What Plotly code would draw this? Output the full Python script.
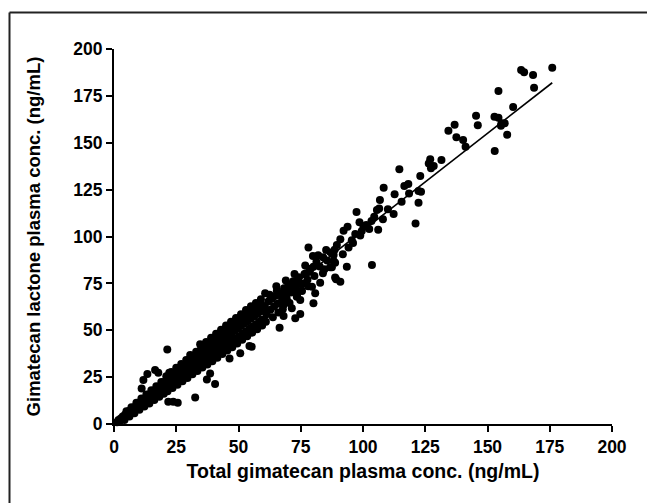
import plotly.graph_objects as go

# ---- data (ng/mL) ----
band_x = [1.2, 1.8, 2.3, 2.7, 3.1, 3.5, 3.9, 4.4, 4.8, 5.2, 5.6, 6.0, 6.4, 6.9, 7.3, 7.7, 8.1, 8.6, 9.0, 9.4,
          9.9, 10.3, 10.8, 11.2, 11.7, 12.1, 12.6, 13.0, 13.5, 14.0, 14.4, 14.9, 15.3, 15.8, 16.2, 16.7, 17.1,
          17.6, 18.0, 18.5, 19.0, 19.4, 19.9,
          20.3, 20.7, 21.1, 21.6, 22.0, 22.4, 22.9, 23.3, 23.7, 24.2, 24.6, 25.0, 25.5, 25.9, 26.3, 26.8, 27.2,
          27.6, 28.1, 28.5, 28.9, 29.4, 29.8, 30.2, 30.7, 31.1, 31.5, 32.0, 32.4, 32.8, 33.3, 33.7, 34.1, 34.6,
          35.0,
          35.4, 35.8, 36.2, 36.7, 37.1, 37.5, 38.0, 38.4, 38.8, 39.3, 39.7, 40.1, 40.6, 41.0, 41.4, 41.9, 42.3,
          42.7, 43.2, 43.6, 44.0, 44.5, 44.9, 45.3, 45.8, 46.2, 46.6, 47.1, 47.5, 47.9, 48.4, 48.8, 49.2, 49.7,
          50.1, 50.5, 51.0, 51.4, 51.8, 52.3, 52.7, 53.1, 53.6, 54.0, 54.4, 54.9, 55.3, 55.7, 56.2, 56.6, 57.0,
          57.5, 57.9, 58.3, 58.8, 59.2, 59.6, 60.0]
band_y = [1.0, 2.1, 1.6, 3.0, 2.4, 4.0, 3.2, 4.9, 3.9, 5.6, 4.8, 6.9, 5.7, 7.4, 6.5, 8.6, 7.2, 9.3, 8.1, 10.4,
          9.0, 11.2, 9.6, 12.3, 10.8, 13.0, 11.4, 14.1, 12.2, 15.2, 13.3, 16.0, 14.1, 17.2, 15.0, 18.1, 15.8,
          19.0, 16.7, 20.1, 17.5, 21.0, 18.6,
          22.5, 19.0, 21.4, 24.0, 20.2, 23.1, 25.3, 21.0, 24.4, 26.6, 22.4, 25.7, 28.0, 23.8, 27.1, 29.4, 25.0,
          28.3, 30.8, 26.2, 29.6, 32.0, 27.5, 31.1, 33.4, 28.7, 32.3, 34.6, 29.9, 33.6, 36.0, 31.2, 35.0, 37.3,
          32.4,
          36.2, 39.5, 33.5, 37.8, 40.9, 34.8, 39.0, 42.3, 36.0, 40.5, 43.6, 37.1, 41.8, 45.0, 38.4, 43.0, 46.4,
          39.6, 44.5, 47.8, 40.9, 45.7, 49.1, 42.0, 47.0, 50.5, 43.3, 48.4, 51.8, 44.5, 49.6, 53.2, 45.8, 50.9,
          54.5, 47.0, 52.3, 55.8, 48.3, 53.6, 57.2, 49.5, 54.8, 58.5, 50.8, 56.1, 59.9, 52.0, 57.5, 61.2, 53.2,
          58.7, 62.6, 54.5, 60.0, 63.8, 55.7, 61.2]

edge_x = [4.2, 6.2, 8.2, 10.2, 12.2, 14.2, 16.2, 18.2, 20.0,
          5.0, 7.0, 9.0, 11.0, 13.0, 15.0, 17.0, 19.0,
          21.5, 23.5, 25.5, 27.5, 29.5, 31.5, 33.5, 35.5,
          21.0, 23.0, 25.0, 27.0, 29.0, 31.0, 33.0, 35.0,
          37.5, 39.5, 41.5, 43.5, 45.5, 47.5, 49.5, 51.5, 53.5, 55.5, 57.5, 59.5,
          37.0, 39.0, 41.0, 43.0, 45.0, 47.0, 49.0, 51.0, 53.0, 55.0, 57.0, 59.0,
          61.0, 62.5, 63.8, 65.2, 66.0, 67.8, 69.0, 70.5, 72.5, 73.5, 75.5, 76.8, 78.0, 80.5, 82.0, 84.5]
edge_y = [2.2, 4.0, 5.8, 7.6, 9.4, 11.0, 12.8, 14.6, 16.2,
          6.8, 9.0, 11.4, 13.6, 15.8, 18.0, 20.2, 22.4,
          17.5, 19.2, 21.0, 22.8, 24.6, 26.5, 28.3, 30.2,
          25.5, 27.8, 30.0, 32.0, 34.2, 36.4, 38.5, 40.6,
          31.8, 33.5, 35.4, 37.4, 39.2, 41.0, 43.0, 45.0, 46.8, 48.7, 50.6, 52.5,
          43.8, 46.0, 48.2, 50.3, 52.5, 54.6, 56.6, 58.6, 60.8, 62.8, 64.6, 66.6,
          54.5, 69.0, 57.0, 73.5, 59.5, 61.2, 76.5, 64.5, 80.0, 68.5, 71.0, 84.5, 73.5, 79.0, 90.0, 82.5]

mid_x = [60.5, 61.3, 62.0, 62.8, 63.5, 64.3, 65.0, 65.8, 66.6, 67.5, 68.3, 69.2, 70.1, 71.0, 72.0, 73.1, 74.2,
         75.3, 76.5, 77.7, 79.0, 81.3, 82.6, 84.0, 85.6, 87.0, 88.6, 95.5, 96.0, 99.5, 102.5, 104.5, 110.0,
         115.5, 118.5]
mid_y = [62.5, 58.6, 65.3, 60.9, 66.8, 62.7, 68.4, 64.2, 69.8, 66.3, 72.4, 68.5, 74.6, 70.2, 76.1, 72.0, 78.3,
         74.4, 80.0, 77.0, 82.8, 86.5, 84.0, 88.9, 87.2, 91.5, 93.0, 98.0, 96.5, 103.0, 104.0, 110.5, 114.5,
         118.5, 123.0]

sc_x = [176.0, 163.5, 164.7, 168.3, 168.7, 154.4, 160.3, 145.4, 152.8, 154.4, 136.8, 146.1, 155.6, 156.9, 155.4,
        134.3, 137.5, 140.2, 141.2, 157.9, 152.9, 131.5, 127.0, 126.4, 128.4, 127.3, 123.0,
        114.6, 116.6, 118.2, 108.3, 112.7, 122.3, 123.3, 122.3, 106.8, 97.4, 105.6, 106.5, 112.3, 108.0, 103.4,
        121.1, 106.1, 98.6, 100.2, 101.3, 93.8, 92.2, 96.9, 98.9, 90.9, 89.5, 94.2, 91.9, 88.2, 87.5, 93.5,
        103.6, 88.8, 90.9,
        78.1, 85.2, 79.9, 88.2, 88.8, 86.8, 80.1, 77.2, 78.5, 83.9, 89.2, 82.8, 75.9, 72.8, 79.5, 80.8, 80.1,
        74.8, 73.4, 71.4, 68.7, 65.4, 60.7, 69.4, 68.1, 71.4, 74.8, 68.1, 72.8, 66.5, 55.3,
        21.4, 34.6, 16.5, 17.8, 13.4, 11.8, 11.1, 22.2, 21.8, 23.8, 25.6, 32.6, 37.3, 40.6, 38.6, 50.7, 54.4,
        30.6, 46.4]
sc_y = [190.0, 188.8, 187.6, 186.1, 179.4, 177.6, 169.1, 164.4, 163.9, 163.4, 159.6, 159.3, 160.4, 160.4, 159.1,
        156.4, 152.9, 151.5, 147.9, 154.3, 145.6, 140.8, 141.2, 139.0, 137.6, 136.4, 132.3,
        135.8, 126.9, 128.0, 126.0, 122.5, 124.3, 123.9, 118.0, 119.5, 113.1, 114.1, 115.0, 112.0, 109.2, 108.3,
        107.0, 103.6, 107.6, 105.2, 106.1, 105.2, 103.1, 101.3, 100.6, 98.5, 95.5, 94.2, 90.5, 86.9, 83.6, 83.9,
        84.8, 78.2, 75.9,
        94.2, 92.8, 89.6, 90.1, 86.0, 83.6, 83.9, 80.4, 81.2, 80.4, 77.2, 75.4, 75.0, 75.4, 73.2, 69.7, 64.4,
        66.1, 67.9, 71.8, 71.5, 71.1, 69.7, 66.5, 63.5, 61.7, 58.7, 57.6, 56.4, 51.4, 41.2,
        39.8, 42.5, 28.8, 27.4, 26.7, 23.5, 19.0, 27.4, 11.9, 11.9, 11.4, 14.2, 23.8, 21.3, 27.0, 37.7, 41.6,
        36.8, 35.0]

fit_x = [1.0, 176.0]
fit_y = [0.5, 182.0]

tick_vals = [0, 25, 50, 75, 100, 125, 150, 175, 200]
x_title = "Total gimatecan plasma conc. (ng/mL)"
y_title = "Gimatecan lactone plasma conc. (ng/mL)"

total = band_x + edge_x + mid_x + sc_x
lactone = band_y + edge_y + mid_y + sc_y

FONT = "Liberation Sans, Arial, sans-serif"

fig = go.Figure()
fig.add_trace(go.Scatter(x=total, y=lactone, mode="markers",
                         marker=dict(size=8, color="black", line=dict(width=0)),
                         cliponaxis=False, showlegend=False))
fig.add_trace(go.Scatter(x=fit_x, y=fit_y, mode="lines",
                         line=dict(color="black", width=1.6),
                         cliponaxis=False, showlegend=False))

L, R, T, B = 114, 35, 49, 80
W, H = 647, 504
pw, ph = W - L - R, H - T - B

def px(x):
    return (x - L) / pw

def py(y):
    return (H - B - y) / ph

fig.add_shape(type="line", xref="paper", yref="paper", x0=px(9.5), x1=px(9.5), y0=py(12.5), y1=py(503),
              line=dict(color="#222", width=2))
fig.add_shape(type="line", xref="paper", yref="paper", x0=px(9.5), x1=px(647), y0=py(12.5), y1=py(12.5),
              line=dict(color="#222", width=2))

axis_common = dict(range=[0, 200], tickvals=tick_vals, showline=True, linecolor="black", linewidth=2,
                   ticks="outside", ticklen=6, tickwidth=2, tickcolor="black", showgrid=False,
                   zeroline=False, tickfont=dict(family=FONT, size=17.5, color="black", weight="bold"))

fig.update_layout(
    width=W, height=H, margin=dict(l=L, r=R, t=T, b=B, autoexpand=False),
    paper_bgcolor="white", plot_bgcolor="white",
    xaxis=dict(**axis_common, title=dict(text=x_title, standoff=8,
               font=dict(family=FONT, size=19.5, color="black", weight="bold"))),
    yaxis=dict(**axis_common, title=dict(text=y_title, standoff=28,
               font=dict(family=FONT, size=18.5, color="black", weight="bold"))),
)

fig.write_html("out.html")
